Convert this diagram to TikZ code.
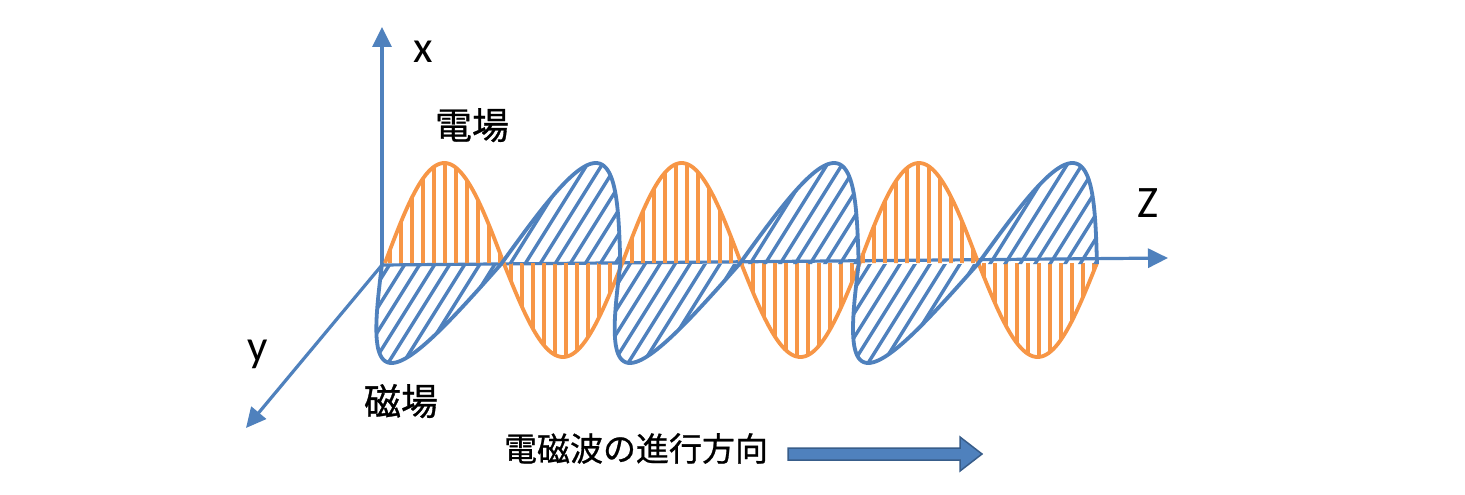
\documentclass[tikz,border=0pt]{standalone}
\usepackage{fontspec}
\setmainfont{Carlito}
\newfontfamily\jpfont[FakeBold=0.8]{Noto Sans CJK JP}
\usetikzlibrary{arrows.meta}
\definecolor{wblue}{RGB}{79,129,189}
\definecolor{worange}{RGB}{247,150,70}
\definecolor{adark}{RGB}{56,93,138}
\begin{document}
\begin{tikzpicture}[x=1pt,y=-1pt,
  axis/.style={wblue, line width=3.2pt, -{Triangle[length=20pt,width=19pt]}},
  ecurve/.style={worange, line width=3.8pt},
  bcurve/.style={wblue, line width=3.8pt},
  ehatch/.style={worange, line width=3.4pt},
  bhatch/.style={wblue, line width=3.4pt},
  axlabel/.style={font=\fontsize{45}{54}\selectfont, inner sep=0pt, anchor=base},
  jplabel/.style={font=\jpfont\fontsize{37}{44}\selectfont, inner sep=0pt, anchor=base},
  eplot/.style={insert path={plot[domain=0:1080, samples=361, variable=\t]({385+\t*0.65925}, {263-100*max(sin(\t),0)-94*min(sin(\t),0)})}},
  bplot/.style={insert path={plot[domain=0:1080, samples=361, variable=\t]({382+\t*0.66203-50*max(sin(\t),0)-35*min(sin(\t),0)}, {264+99*max(sin(\t),0)+101*min(sin(\t),0)})}},
  dirarrow/.style={adark, line width=1.5pt, fill=wblue, line join=miter}
]
\fill[white] (0,0) rectangle (1465,495);
\useasboundingbox (0,0) rectangle (1465,495);

% axes
\coordinate (O) at (382,265);
\coordinate (xtip) at (382,27);
\coordinate (ztip) at (1168,258);
\coordinate (ytip) at (246,428);
\draw[axis] (O) -- (xtip);
\draw[axis] (O) -- (ztip);
\draw[axis] (O) -- (ytip);

% electric field hatching
\begin{scope}
  \clip[eplot] -- cycle;
  \foreach \x in {390,401,...,1095} \draw[ehatch] ({\x},140) -- ({\x},380);
\end{scope}
% magnetic field hatching
\begin{scope}
  \clip[bplot] -- cycle;
  \foreach \x in {300,315,...,1200} \draw[bhatch] ({\x-70},376) -- ({\x+70},152);
\end{scope}

% curves
\draw[ecurve, eplot];
\draw[bcurve, bplot];

% labels
\node[axlabel] (xl) at (423,63) {x};
\node[axlabel] (zl) at (1148,217) {Z};
\node[axlabel] (yl) at (258,361) {y};
\node[jplabel] (el) at (472,139) {電場};
\node[jplabel] (ml) at (401,415) {磁場};
\node[jplabel, font=\jpfont\fontsize{33}{40}\selectfont] (dir) at (636,461) {電磁波の進行方向};

% direction arrow
\draw[dirarrow] (788,448) -- (960,448) -- (960,437) -- (982,454) -- (960,471) -- (960,460) -- (788,460) -- cycle;
\end{tikzpicture}
\end{document}
